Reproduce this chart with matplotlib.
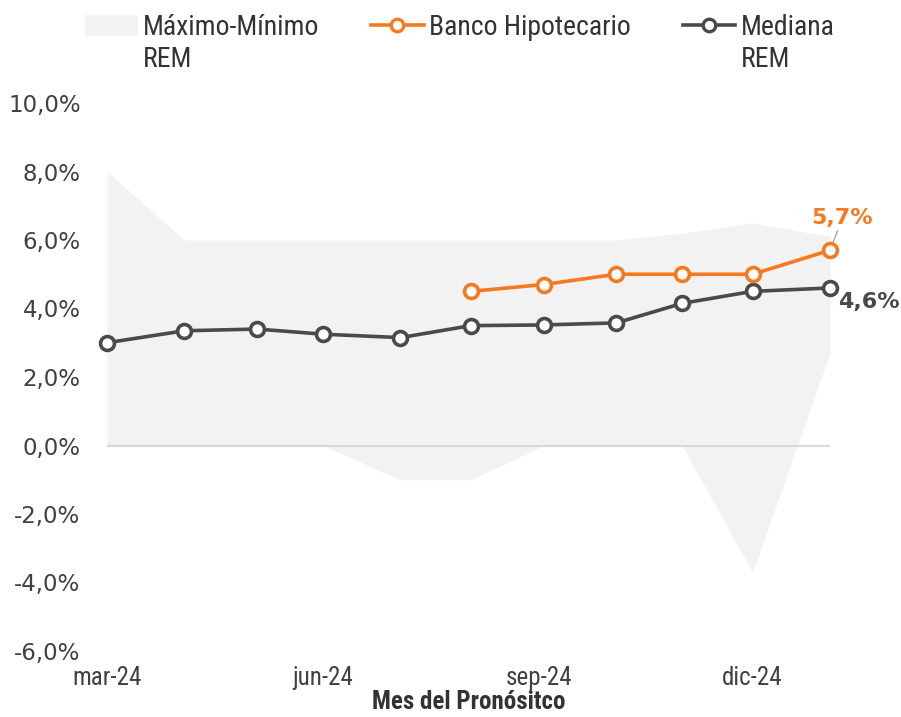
import numpy as np
import pandas as pd
import matplotlib.pyplot as plt
from matplotlib.lines import Line2D
from matplotlib.patches import Patch

# forecast dates and values in %
fechas = pd.to_datetime(["2024-03-01", "2024-04-03", "2024-05-04", "2024-06-01",
                         "2024-07-04", "2024-08-03", "2024-09-03", "2024-10-04",
                         "2024-11-01", "2024-12-01", "2025-01-03"])
rem_max = [8.0, 6.0, 6.0, 6.0, 6.0, 6.0, 6.0, 6.0, 6.2, 6.5, 6.1]
rem_min = [0.0, 0.0, 0.0, 0.0, -1.0, -1.0, 0.0, 0.0, 0.0, -3.7, 2.7]
rem_mediana = [3.0, 3.35, 3.4, 3.25, 3.15, 3.5, 3.52, 3.58, 4.15, 4.5, 4.6]
banco_hip = [np.nan, np.nan, np.nan, np.nan, np.nan, 4.5, 4.7, 5.0, 5.0, 5.0, 5.7]
tick_fechas = pd.to_datetime(["2024-03-01", "2024-06-01", "2024-09-01", "2024-12-01"])
tick_meses = ["mar-24", "jun-24", "sep-24", "dic-24"]

NARROW = ["Roboto Condensed", "Liberation Sans Narrow", "Roboto"]
ORANGE = "#F47A20"
DARK = "#4A4A4A"
FILL = "#F2F2F2"

fig = plt.figure(figsize=(9.01, 7.17), dpi=100)
ax = fig.add_axes([107/901, 66/717, 723/901, 548/717])

ax.fill_between(fechas, rem_min, rem_max, color=FILL, linewidth=0, zorder=1)
ax.axhline(0, color="#D9D9D9", linewidth=1.5, zorder=2)

ax.plot(fechas, rem_mediana, color=DARK, linewidth=2.6, marker="o", markersize=10,
        markerfacecolor="white", markeredgecolor=DARK, markeredgewidth=2.6,
        clip_on=False, zorder=4)
ax.plot(fechas, banco_hip, color=ORANGE, linewidth=2.6, marker="o", markersize=10,
        markerfacecolor="white", markeredgecolor=ORANGE, markeredgewidth=2.6,
        clip_on=False, zorder=5)

# data labels on the last point
ax.annotate(f"{banco_hip[-1]:.1f}%".replace(".", ","), xy=(fechas[-1], banco_hip[-1]),
            xytext=(9, 16), textcoords="offset points", ha="center", va="bottom",
            fontsize=16, fontweight="bold", color=ORANGE,
            arrowprops=dict(arrowstyle="-", color="#A6A6A6", lw=1,
                            shrinkA=0, shrinkB=6))
ax.annotate(f"{rem_mediana[-1]:.1f}%".replace(".", ","), xy=(fechas[-1], rem_mediana[-1]),
            xytext=(6, -10), textcoords="offset points", ha="left", va="center",
            fontsize=16, fontweight="bold", color=DARK)

ax.set_xlim(fechas[0], fechas[-1])
ax.set_ylim(-6, 10)
yt = np.arange(-6, 11, 2)
ax.set_yticks(yt)
ax.set_yticklabels([f"{v:.1f}%".replace(".", ",") for v in yt],
                   fontsize=16.5, color="#404040", family="DejaVu Sans")
ax.set_xticks(tick_fechas)
ax.set_xticklabels(tick_meses, fontsize=18, color="#404040", family=NARROW)
ax.tick_params(axis="y", length=0, pad=19)
ax.tick_params(axis="x", length=0, pad=11)
ax.set_xlabel("Mes del Pronósitco", fontsize=18, fontweight="bold",
              color="#333333", family=NARROW, labelpad=0)
for s in ax.spines.values():
    s.set_visible(False)

handles = [
    Patch(facecolor=FILL, edgecolor="none"),
    Line2D([], [], color=ORANGE, lw=2.6, marker="o", markersize=9,
           markerfacecolor="white", markeredgewidth=2.4),
    Line2D([], [], color=DARK, lw=2.6, marker="o", markersize=9,
           markerfacecolor="white", markeredgewidth=2.4),
]
labels = ["Máximo-Mínimo", "Banco Hipotecario", "Mediana"]
leg = fig.legend(handles, labels, loc="upper left", bbox_to_anchor=(85/901, 1 - 14/717),
                 ncol=3, frameon=False, handlelength=1.9, handleheight=0.8,
                 handletextpad=0.2, columnspacing=1.85, borderpad=0, borderaxespad=0,
                 prop=dict(family=NARROW, size=20))
for t in leg.get_texts():
    t.set_color("#333333")

# second line of the two REM labels
fig.canvas.draw()
inv = fig.transFigure.inverted()
for i in (0, 2):
    bb = leg.get_texts()[i].get_window_extent()
    x0, y0 = inv.transform((bb.x0, bb.y0))
    fig.text(x0, y0 - 5/717, "REM", ha="left", va="top", fontsize=20,
             family=NARROW, color="#333333")

fig.savefig("out.png", dpi=100)
